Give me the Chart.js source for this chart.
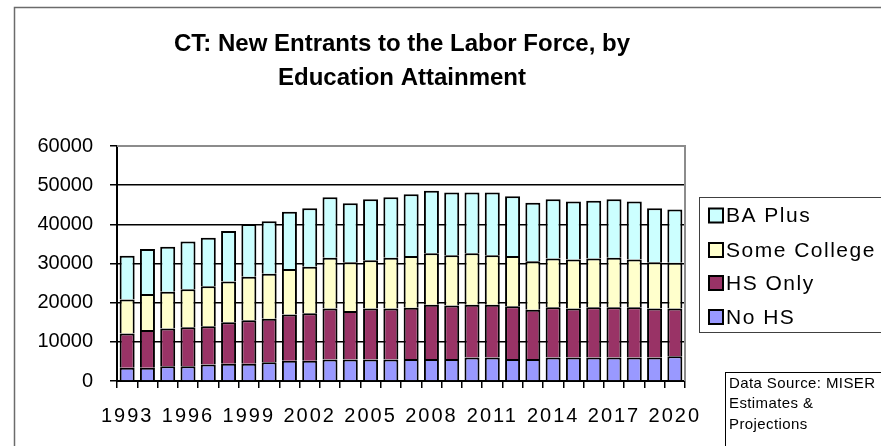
<!DOCTYPE html>
<html>
<head>
<meta charset="utf-8">
<script src="https://cdn.jsdelivr.net/npm/chart.js@4"></script>
<style>
html,body{margin:0;padding:0;background:#fff;}
#wrap{width:881px;height:446px;}
</style>
</head>
<body>
<div id="wrap"><canvas id="c" width="881" height="446"></canvas></div>
<script>
const years = ['1993','1994','1995','1996','1997','1998','1999','2000','2001','2002','2003','2004','2005','2006','2007','2008','2009','2010','2011','2012','2013','2014','2015','2016','2017','2018','2019','2020'];
const noHS        = [3400,3400,3750,3750,4200,4400,4400,4800,5200,5200,5500,5500,5500,5500,5600,5600,5600,6000,6000,5600,5600,6000,6000,6000,6000,6000,6000,6300];
const hsOnly      = [8700,9600,9650,9950,9800,10600,11100,11100,11800,12100,13000,12400,13000,13000,13100,13900,13700,13500,13500,13500,12600,12800,12500,12800,12800,12800,12500,12200];
const someCollege = [8700,9200,9400,9700,10200,10400,11100,11500,11600,11900,13000,12400,12300,13000,13200,13100,12800,13100,12600,12800,12400,12500,12500,12500,12700,12200,11800,11700];
const baPlus      = [11200,11500,11500,12200,12400,12900,13500,13400,14600,14900,15400,15100,15600,15400,15800,16000,16000,15500,16000,15300,14900,15100,14800,14700,14900,14800,13800,13600];
const yTicks = [0,10000,20000,30000,40000,50000,60000];
const titleLines = ['CT: New Entrants to the Labor Force, by','Education Attainment'];
const sourceLines = ['Data Source: MISER','Estimates &','Projections'];

const seriesNames = ['No HS','HS Only','Some College','BA Plus'];
const seriesColors = ['#9999FF','#993366','#FFFFCC','#CCFFFF'];
const seriesData = [noHS, hsOnly, someCollege, baPlus];

const FONT = '"Liberation Sans", Arial, sans-serif';

const decor = {
  id: 'decor',
  beforeDraw(chart) { chart.ctx.letterSpacing = '0px'; },
  afterDatasetsDraw(chart) { chart.ctx.letterSpacing = '2px'; },
  afterDraw(chart) {
    const ctx = chart.ctx;
    const a = chart.chartArea;
    ctx.save();
    ctx.letterSpacing = '0px';
    // outer frame
    ctx.strokeStyle = '#6b6b6b';
    ctx.lineWidth = 1.5;
    ctx.strokeRect(14.5, 7.5, 900, 500);
    // plot border top/right gray
    ctx.strokeStyle = '#8c8c8c';
    ctx.lineWidth = 2;
    ctx.beginPath();
    ctx.moveTo(a.left, a.top);
    ctx.lineTo(a.right, a.top);
    ctx.lineTo(a.right, a.bottom);
    ctx.stroke();
    // title
    ctx.fillStyle = '#000';
    ctx.font = 'bold 24px ' + FONT;
    ctx.textAlign = 'center';
    ctx.textBaseline = 'middle';
    ctx.fillText(titleLines[0], 402, 44);
    ctx.fillText(titleLines[1], 402, 78);
    // legend
    ctx.strokeStyle = '#404040';
    ctx.lineWidth = 1;
    ctx.strokeRect(699.5, 197.5, 200, 135);
    const rows = [215.5, 250, 283, 317];
    ctx.letterSpacing = '1.5px';
    ctx.font = '21px ' + FONT;
    ctx.textAlign = 'left';
    for (let i = 0; i < 4; i++) {
      const di = 3 - i;
      const y = rows[i];
      ctx.fillStyle = seriesColors[di];
      ctx.fillRect(709, y - 7, 14, 14);
      ctx.strokeStyle = '#000';
      ctx.lineWidth = 2;
      ctx.strokeRect(709, y - 7, 14, 14);
      ctx.fillStyle = '#000';
      ctx.fillText(seriesNames[di], 726, y + 1);
    }
    // data source box
    ctx.strokeStyle = '#000';
    ctx.lineWidth = 1;
    ctx.strokeRect(725.5, 372.5, 200, 100);
    ctx.letterSpacing = '0.4px';
    ctx.font = '15px ' + FONT;
    ctx.fillStyle = '#000';
    ctx.fillText(sourceLines[0], 729, 384);
    ctx.fillText(sourceLines[1], 729, 404);
    ctx.fillText(sourceLines[2], 729, 425);
    ctx.restore();
    ctx.letterSpacing = '0px';
  }
};

new Chart(document.getElementById('c'), {
  type: 'bar',
  data: {
    labels: years,
    datasets: seriesData.map((d, i) => ({
      label: seriesNames[i],
      data: d,
      backgroundColor: seriesColors[i],
      borderColor: '#000',
      borderWidth: 2,
      barPercentage: 0.74,
      categoryPercentage: 1
    }))
  },
  options: {
    responsive: false,
    animation: false,
    devicePixelRatio: 1,
    layout: { padding: { top: 146, right: 196, left: 0, bottom: 0 } },
    plugins: { legend: { display: false }, title: { display: false }, tooltip: { enabled: false } },
    scales: {
      x: {
        stacked: true,
        afterFit(s) { s.height = 65; },
        grid: { display: true, drawOnChartArea: false, color: '#000', tickLength: 7, lineWidth: 1.5, offset: true },
        border: { display: true, color: '#000', width: 2 },
        ticks: {
          z: 1,
          autoSkip: false, maxRotation: 0, minRotation: 0, padding: 16, color: '#000',
          font: { family: FONT, size: 20 },
          callback(v, i) { return i % 3 === 0 ? years[i] : ''; }
        }
      },
      y: {
        stacked: true,
        min: 0, max: 60000,
        afterFit(s) { s.width = 117; },
        afterBuildTicks(s) { s.ticks = yTicks.map(v => ({ value: v })); },
        grid: {
          color: (c) => (c.tick && c.tick.value === 60000) ? '#8c8c8c' : '#000',
          tickColor: '#000', tickLength: 7, lineWidth: 1.5
        },
        border: { display: true, color: '#000', width: 2 },
        ticks: {
          padding: 17, color: '#000',
          font: { family: FONT, size: 20 },
          callback(v) { return String(v); }
        }
      }
    }
  },
  plugins: [decor]
});
</script>
</body>
</html>
